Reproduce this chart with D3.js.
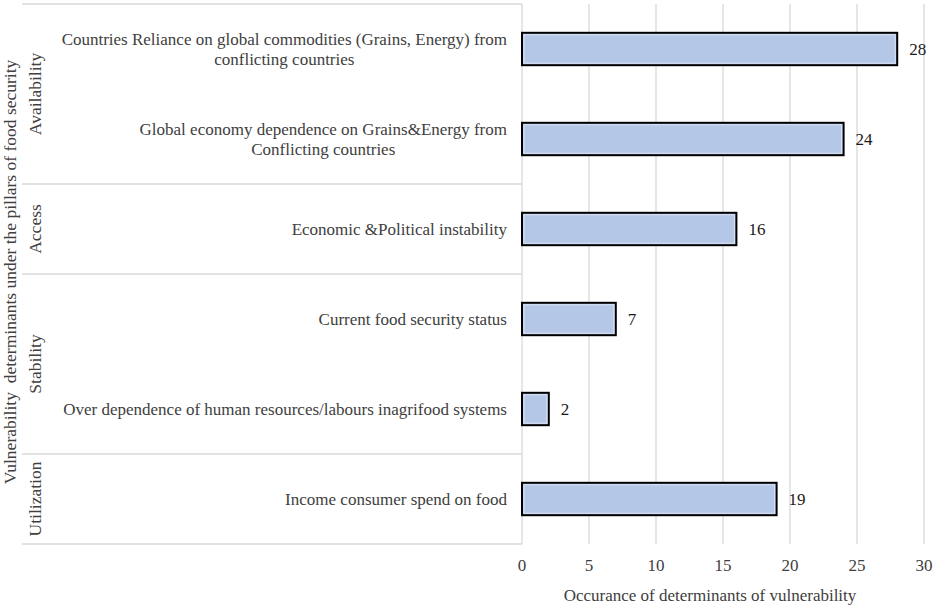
<!DOCTYPE html>
<html>
<head>
<meta charset="utf-8">
<script src="https://cdn.jsdelivr.net/npm/d3@7"></script>
<style>
  html, body { margin: 0; padding: 0; background: #fff; }
  svg text { font-family: "Liberation Serif", "Times New Roman", serif; fill: #404040; }
</style>
</head>
<body>
<svg id="chart" width="935" height="606"></svg>
<script>
const categories = [
  ["Countries Reliance on global commodities (Grains, Energy) from", "conflicting countries"],
  ["Global economy dependence on Grains&Energy from", "Conflicting countries"],
  ["Economic &Political instability"],
  ["Current food security status"],
  ["Over dependence of human resources/labours inagrifood systems"],
  ["Income consumer spend on food"]
];
const values = [28, 24, 16, 7, 2, 19];
const groups = ["Availability", "Access", "Stability", "Utilization"];
const groupSizes = [2, 1, 2, 1];
const xTicks = [0, 5, 10, 15, 20, 25, 30];
const xTitle = "Occurance of determinants of vulnerability";
const yTitle = "Vulnerability  determinants under the pillars of food security";

const FS = 17;
const svg = d3.select("#chart");
const pLeft = 522, pRight = 924, pTop = 4, pBottom = 544;
const catLeft = 22;

const x = d3.scaleLinear().domain([0, 30]).range([pLeft, pRight]);
const keys = categories.map((d, i) => i);
const y = d3.scaleBand().domain(keys).range([pTop, pBottom]).paddingInner(0.64).paddingOuter(0.32);
const yStep = d3.scaleBand().domain(keys).range([pTop, pBottom]);

// gridlines
svg.append("g").selectAll("line").data(xTicks).join("line")
  .attr("x1", d => x(d)).attr("x2", d => x(d))
  .attr("y1", pTop).attr("y2", pBottom)
  .attr("stroke", "#d9d9d9").attr("stroke-width", 1.3);

// group separators
let idx = 0;
const bounds = [0];
groupSizes.forEach(s => { idx += s; bounds.push(idx); });
const yB = b => b < keys.length ? yStep(b) : pBottom;
svg.append("g").selectAll("line").data(bounds).join("line")
  .attr("x1", catLeft).attr("x2", pLeft)
  .attr("y1", d => yB(d)).attr("y2", d => yB(d))
  .attr("stroke", "#d9d9d9").attr("stroke-width", 1.3);

// group labels
svg.append("g").selectAll("text").data(groups).join("text")
  .attr("transform", (d, i) => `translate(41,${(yB(bounds[i]) + yB(bounds[i + 1])) / 2}) rotate(-90)`)
  .attr("text-anchor", "middle")
  .attr("font-size", 17.5)
  .text(d => d);

// bars
svg.append("g").selectAll("rect").data(values).join("rect")
  .attr("x", x(0))
  .attr("y", (d, i) => y(i))
  .attr("width", d => x(d) - x(0))
  .attr("height", y.bandwidth())
  .attr("fill", "#b4c7e7")
  .attr("stroke", "#000")
  .attr("stroke-width", 2);

// inner light border
svg.append("g").selectAll("rect").data(values).join("rect")
  .attr("x", x(0) + 2)
  .attr("y", (d, i) => y(i) + 2)
  .attr("width", d => Math.max(0, x(d) - x(0) - 4))
  .attr("height", y.bandwidth() - 4)
  .attr("fill", "none")
  .attr("stroke", "#dae3f3")
  .attr("stroke-width", 1);

// value labels
svg.append("g").selectAll("text").data(values).join("text")
  .attr("x", d => x(d) + 12)
  .attr("y", (d, i) => y(i) + y.bandwidth() / 2)
  .attr("dy", "0.35em")
  .attr("font-size", FS)
  .style("fill", "#1a1a1a")
  .text(d => d);

// category labels
const labelRight = 507;
const catG = svg.append("g");
categories.forEach((lines, i) => {
  const cy = yStep(i) + yStep.bandwidth() / 2;
  const lh = 19.5;
  if (lines.length === 1) {
    catG.append("text").attr("x", labelRight).attr("y", cy).attr("dy", "0.35em")
      .attr("text-anchor", "end").attr("font-size", FS).text(lines[0]);
  } else {
    const t = catG.append("text").attr("font-size", FS).attr("text-anchor", "middle");
    const tmp = catG.append("text").attr("font-size", FS).text(lines[0]);
    const w = tmp.node().getComputedTextLength();
    tmp.remove();
    const cx = labelRight - w / 2;
    lines.forEach((ln, j) => {
      t.append("tspan").attr("x", cx)
        .attr("y", cy + (j - (lines.length - 1) / 2) * lh)
        .attr("dy", "0.35em").text(ln);
    });
  }
});

// x axis tick labels
svg.append("g").selectAll("text").data(xTicks).join("text")
  .attr("x", d => x(d)).attr("y", 565).attr("dy", "0.35em")
  .attr("text-anchor", "middle").attr("font-size", FS).text(d => d);

// axis titles
svg.append("text").attr("x", 710).attr("y", 595).attr("dy", "0.35em")
  .attr("text-anchor", "middle").attr("font-size", FS).text(xTitle);
svg.append("text").attr("transform", "translate(16,272) rotate(-90)")
  .attr("text-anchor", "middle").attr("font-size", 17.5)
  .style("white-space", "pre").text(yTitle);
</script>
</body>
</html>
